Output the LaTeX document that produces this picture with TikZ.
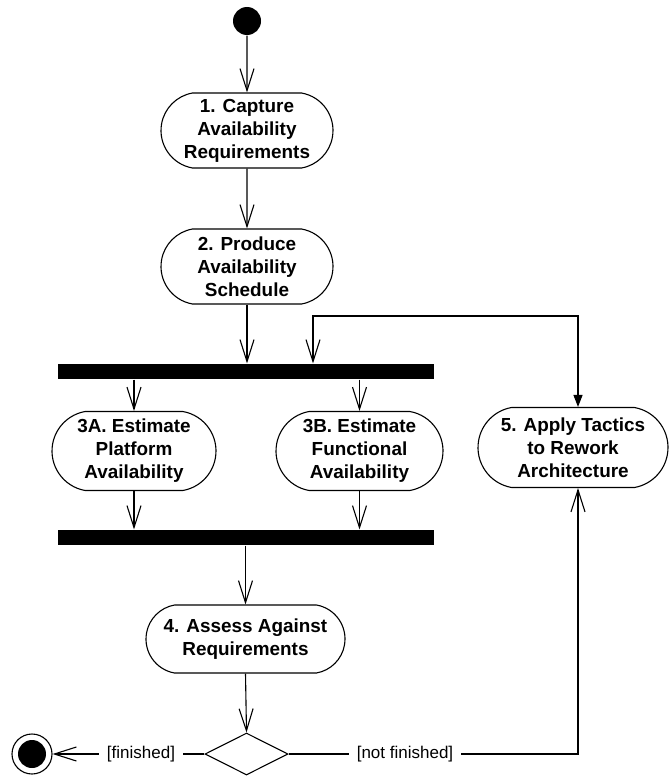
\documentclass[tikz,border=0pt]{standalone}
\usepackage{fontspec}
\setmainfont{Liberation Sans}
\usetikzlibrary{shapes.misc,shapes.geometric,arrows.meta}
\begin{document}
\begin{tikzpicture}[x=1pt,y=-1pt,
  line width=1.1pt,
  act/.style={draw, rounded rectangle, rounded rectangle arc length=160,
    align=center, inner sep=0pt, font=\fontsize{18.9}{23}\selectfont\bfseries},
  bar/.style={fill=black, inner sep=0pt, minimum width=376pt, minimum height=15pt},
  flow/.style={-{Straight Barb[length=22pt,width=14pt]}},
  guard/.style={font=\fontsize{17}{20}\selectfont, inner xsep=7.5pt, inner ysep=0pt},
]
\useasboundingbox (0,0) rectangle (669,776);

% initial and final states
\node[circle, fill, minimum size=28pt, inner sep=0pt] (start) at (247,21) {};
\node[circle, draw, minimum size=40pt, inner sep=0pt,
  path picture={\fill (path picture bounding box.center) circle (14pt);}] (final) at (32,754) {};

% activities
\node[act, minimum width=172pt, minimum height=75pt] (n1) at (247,130.5)
  {1. Capture\\Availability\\Requirements};
\node[act, minimum width=172pt, minimum height=75pt] (n2) at (247,266.5)
  {2. Produce\\Availability\\Schedule};
\node[act, minimum width=164pt, minimum height=79pt] (n3a) at (134,451)
  {3A. Estimate\\Platform\\Availability};
\node[act, minimum width=167pt, minimum height=79pt] (n3b) at (359.5,451)
  {3B. Estimate\\Functional\\Availability};
\node[act, minimum width=190pt, minimum height=80pt] (n5) at (573,447.5)
  {5. Apply Tactics\\to Rework\\Architecture};
\node[act, minimum width=199pt, minimum height=68pt] (n4) at (245.5,639)
  {4. Assess Against\\Requirements};

% fork / join bars and decision
\node[bar] (fork) at (246,371.5) {};
\node[bar] (join) at (246,537.5) {};
\node[diamond, draw, minimum width=83pt, minimum height=42pt, inner sep=0pt] (dec) at (246.5,754) {};

% guards
\node[guard] (gfin) at (141,754) {[finished]};
\node[guard] (gnot) at (405,754) {[not finished]};

\coordinate (up) at (578,316);
\coordinate (back) at (313,316);
\coordinate (turn) at (578,754);

% control flow
\draw[flow] (start) -- (n1);
\draw[flow] (n1) -- (n2);
\draw[flow] (n2.south) -- (n2.south |- fork.north);
\draw[{Triangle[length=12pt,width=9pt]}-{Straight Barb[length=22pt,width=14pt]}]
  (n5.north -| up) -- (up) -- (back) -- (back |- fork.north);
\draw[flow] (n3a.north |- fork.south) -- (n3a.north);
\draw[flow] (n3b.north |- fork.south) -- (n3b.north);
\draw[flow] (n3a.south) -- (n3a.south |- join.north);
\draw[flow] (n3b.south) -- (n3b.south |- join.north);
\draw[flow] (n4.north |- join.south) -- (n4.north);
\draw[flow] (n4.south) -- (dec.north);
\draw (dec.west) -- (gfin.east);
\draw[flow] (gfin.west) -- (final.east);
\draw (dec.east) -- (gnot.west);
\draw[flow] (gnot.east) -- (turn) -- (turn |- n5.south);
\end{tikzpicture}
\end{document}
